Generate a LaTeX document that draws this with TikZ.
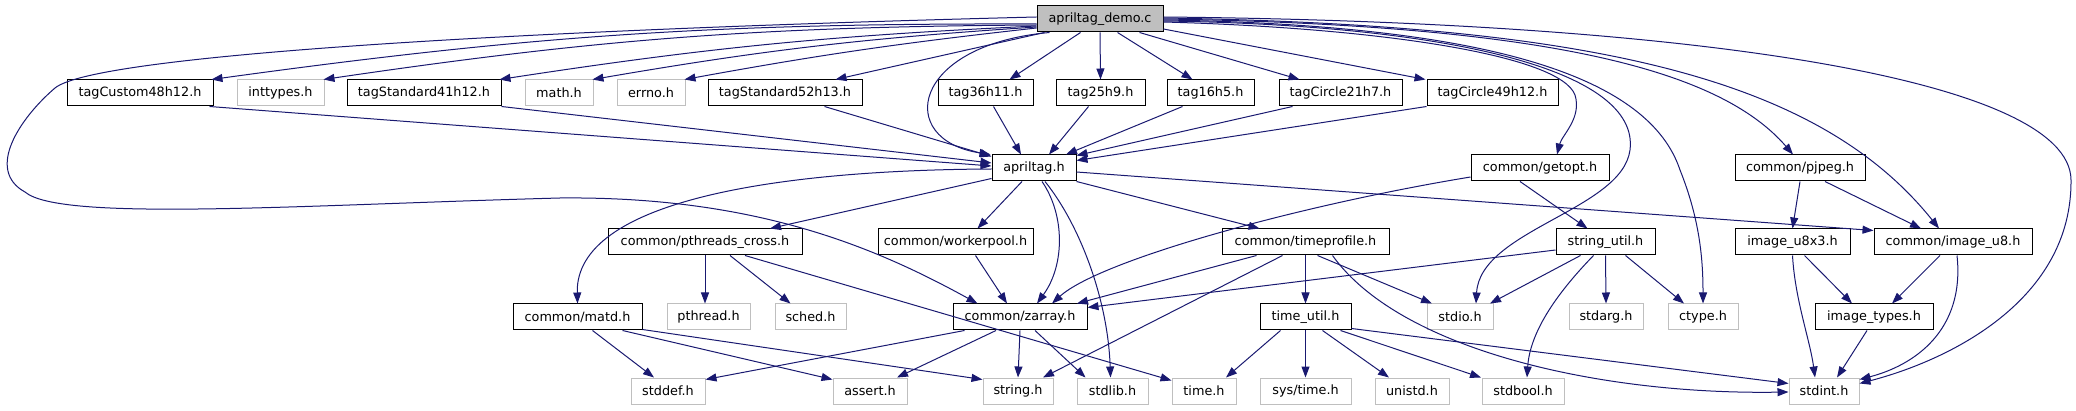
\documentclass[tikz,border=0pt]{standalone}
\usepackage{fontspec}
\setmainfont{DejaVu Sans}
\usetikzlibrary{arrows.meta}
\definecolor{edgeblue}{HTML}{191970}
\definecolor{sysgray}{HTML}{BFBFBF}
\tikzset{
  hdr/.style={draw=black, line width=1pt, fill=white, text=black,
    minimum height=26pt, inner sep=0pt, font=\fontsize{12.8}{15}\selectfont},
  syshdr/.style={hdr, draw=sysgray},
  mainfile/.style={hdr, fill=sysgray},
  edge/.style={draw=edgeblue, line width=1pt, -{Triangle[length=11pt,width=8pt]}}
}
\begin{document}
\begin{tikzpicture}[x=1pt,y=-1pt]
\useasboundingbox (0,0) rectangle (2076,411);
% source file
\node[mainfile, minimum width=126] (root) at (1100,19) {apriltag\_demo.c};
% first level
\node[hdr, minimum width=146] (tagcustom) at (140,93) {tagCustom48h12.h};
\node[syshdr, minimum width=87] (inttypes) at (280.5,93) {inttypes.h};
\node[hdr, minimum width=154] (tagstdA) at (424,93) {tagStandard41h12.h};
\node[syshdr, minimum width=68] (math) at (559,93) {math.h};
\node[syshdr, minimum width=68] (errno) at (651,93) {errno.h};
\node[hdr, minimum width=154] (tagstdB) at (785,93) {tagStandard52h13.h};
\node[hdr, minimum width=95] (tagA) at (985.5,93) {tag36h11.h};
\node[hdr, minimum width=89] (tagB) at (1100.5,93) {tag25h9.h};
\node[hdr, minimum width=87] (tagC) at (1210.5,93) {tag16h5.h};
\node[hdr, minimum width=123] (circA) at (1340.5,93) {tagCircle21h7.h};
\node[hdr, minimum width=131] (circB) at (1492.5,93) {tagCircle49h12.h};
% second level
\node[hdr, minimum width=84] (apriltag) at (1034,168) {apriltag.h};
\node[hdr, minimum width=138] (getopt) at (1540,168) {common/getopt.h};
\node[hdr, minimum width=130] (pjpeg) at (1800,168) {common/pjpeg.h};
% third level
\node[hdr, minimum width=194] (pthreads) at (705,242) {common/pthreads\_cross.h};
\node[hdr, minimum width=155] (workerpool) at (955.5,242) {common/workerpool.h};
\node[hdr, minimum width=167] (timeprofile) at (1305.5,242) {common/timeprofile.h};
\node[hdr, minimum width=99] (strutil) at (1605.5,242) {string\_util.h};
\node[hdr, minimum width=115] (imgxthree) at (1792.5,242) {image\_u8x3.h};
\node[hdr, minimum width=158] (imgu) at (1953,242) {common/image\_u8.h};
% fourth level
\node[hdr, minimum width=129] (matd) at (577.5,317) {common/matd.h};
\node[syshdr, minimum width=83] (pthread) at (708.5,317) {pthread.h};
\node[syshdr, minimum width=71] (sched) at (810.5,317) {sched.h};
\node[hdr, minimum width=134] (zarray) at (1020,317) {common/zarray.h};
\node[hdr, minimum width=91] (timeutil) at (1305.5,317) {time\_util.h};
\node[syshdr, minimum width=66] (stdio) at (1460,317) {stdio.h};
\node[syshdr, minimum width=74] (stdarg) at (1606,317) {stdarg.h};
\node[syshdr, minimum width=70] (ctype) at (1703,317) {ctype.h};
\node[hdr, minimum width=118] (imgtypes) at (1874,317) {image\_types.h};
% system headers
\node[syshdr, minimum width=74] (stddef) at (668,391) {stddef.h};
\node[syshdr, minimum width=74] (assert) at (870,391) {assert.h};
\node[syshdr, minimum width=70] (string) at (1018,391) {string.h};
\node[syshdr, minimum width=71] (stdlib) at (1112.5,391) {stdlib.h};
\node[syshdr, minimum width=64] (time) at (1204,391) {time.h};
\node[syshdr, minimum width=91] (systime) at (1305.5,391) {sys/time.h};
\node[syshdr, minimum width=74] (unistd) at (1412,391) {unistd.h};
\node[syshdr, minimum width=82] (stdbool) at (1523,391) {stdbool.h};
\node[syshdr, minimum width=70] (stdint) at (1824,391) {stdint.h};
% includes of apriltag_demo.c
\draw[edge] ([yshift=-5]root.west) to[bend right=4] ([xshift=-2]tagcustom.north east);
\draw[edge] ([yshift=-6]root.west) to[bend right=4] ([xshift=-1]inttypes.north east);
\draw[edge] ([yshift=-7]root.west) to[bend right=3] ([xshift=-2]tagstdA.north east);
\draw[edge] ([yshift=-8]root.west) to[bend right=3] ([xshift=-1]math.north east);
\draw[edge] ([yshift=-9]root.west) to[bend right=2] ([xshift=-1]errno.north east);
\draw[edge] ([xshift=8]root.south west) -- ([xshift=-27]tagstdB.north east);
\draw[edge] ([xshift=44]root.south west) -- ([xshift=24]tagA.north);
\draw[edge] (root.south) -- (tagB.north);
\draw[edge] ([xshift=-46]root.south east) -- ([xshift=-18]tagC.north);
\draw[edge] ([xshift=-24]root.south east) -- ([xshift=21]circA.north west);
\draw[edge] ([yshift=-10]root.east) -- ([xshift=-1]circB.north west);
\draw[edge] ([xshift=13]root.south west) .. controls (910,45) and (895,140) .. ([xshift=-1]apriltag.north west);
\draw[edge] ([yshift=2]root.west) .. controls (520,30) and (95,55) .. (55,88)
  .. controls (20,118) and (-15,170) .. (25,192)
  .. controls (60,222) and (300,205) .. (560,198)
  .. controls (760,196) and (880,250) .. ([xshift=25]zarray.north west);
\draw[edge] ([yshift=-3]root.east) .. controls (1380,28) and (1560,55) .. (1575,95)
  .. controls (1582,118) and (1562,135) .. ([xshift=17]getopt.north);
\draw[edge] ([yshift=-2]root.east) .. controls (1450,25) and (1640,70) .. (1630,150)
  .. controls (1622,210) and (1480,230) .. ([xshift=16]stdio.north);
\draw[edge] ([yshift=-1]root.east) .. controls (1500,25) and (1650,80) .. (1680,170)
  .. controls (1700,220) and (1703,260) .. (ctype.north);
\draw[edge] (root.east) .. controls (1550,25) and (1720,70) .. ([xshift=-7]pjpeg.north);
\draw[edge] ([yshift=1]root.east) .. controls (1600,25) and (1820,80) .. ([xshift=-14]imgu.north);
\draw[edge] ([yshift=2]root.east) .. controls (1700,22) and (2070,80) .. (2071,180)
  .. controls (2072,300) and (1950,360) .. ([yshift=-6]stdint.north east);
% tag families
\draw[edge] ([xshift=-4]tagcustom.south east) -- ([yshift=2]apriltag.west);
\draw[edge] (tagstdA.south east) -- ([yshift=5]apriltag.west);
\draw[edge] ([xshift=-38]tagstdB.south east) -- ([yshift=-2]apriltag.north west);
\draw[edge] ([xshift=8]tagA.south) -- ([xshift=-13]apriltag.north);
\draw[edge] ([xshift=-12]tagB.south) -- ([xshift=15]apriltag.north);
\draw[edge] ([xshift=-28]tagC.south) -- ([xshift=32]apriltag.north);
\draw[edge] ([xshift=14]circA.south west) -- ([yshift=-1]apriltag.north east);
\draw[edge] (circB.south west) -- ([yshift=-6]apriltag.north east);
% includes of apriltag.h
\draw[edge] ([yshift=-1]apriltag.west) .. controls (780,170) and (575,200) .. (matd.north);
\draw[edge] ([yshift=3]apriltag.south west) -- ([xshift=65]pthreads.north);
\draw[edge] ([xshift=-12]apriltag.south) -- ([xshift=22]workerpool.north);
\draw[edge] ([xshift=8]apriltag.south) .. controls (1065,215) and (1065,265) .. ([xshift=17]zarray.north);
\draw[edge] ([xshift=11]apriltag.south) .. controls (1080,225) and (1108,300) .. ([xshift=-2]stdlib.north);
\draw[edge] (apriltag.south east) -- ([xshift=38]timeprofile.north west);
\draw[edge] ([yshift=-4]apriltag.east) -- ([yshift=-2]imgu.north west);
% getopt, pjpeg
\draw[edge] ([yshift=-9]getopt.west) .. controls (1300,205) and (1100,260) .. ([xshift=32]zarray.north);
\draw[edge] ([xshift=-20]getopt.south) -- ([xshift=-18]strutil.north);
\draw[edge] (pjpeg.south) -- (imgxthree.north);
\draw[edge] ([xshift=25]pjpeg.south) -- ([xshift=-32]imgu.north);
% timeprofile
\draw[edge] ([xshift=35]timeprofile.south west) -- ([xshift=57]zarray.north);
\draw[edge] ([xshift=-23]timeprofile.south) -- ([xshift=25]string.north);
\draw[edge] (timeprofile.south) -- (timeutil.north);
\draw[edge] ([xshift=12]timeprofile.south) -- ([xshift=-28]stdio.north);
\draw[edge] ([xshift=27]timeprofile.south) .. controls (1400,350) and (1600,395) .. ([yshift=-1]stdint.west);
% string_util
\draw[edge] ([yshift=-8]strutil.west) -- ([yshift=-4]zarray.north east);
\draw[edge] ([xshift=-25]strutil.south) -- ([xshift=30]stdio.north);
\draw[edge] (strutil.south) -- (stdarg.north);
\draw[edge] ([xshift=20]strutil.south) -- ([xshift=-19]ctype.north);
\draw[edge] ([xshift=-12]strutil.south) .. controls (1560,290) and (1530,330) .. ([xshift=4]stdbool.north);
% time_util
\draw[edge] ([xshift=-25]timeutil.south) -- ([xshift=22]time.north);
\draw[edge] (timeutil.south) -- (systime.north);
\draw[edge] ([xshift=17]timeutil.south) -- ([xshift=-23]unistd.north);
\draw[edge] ([xshift=35]timeutil.south) -- ([xshift=-42]stdbool.north);
\draw[edge] ([yshift=2]timeutil.south east) -- ([yshift=-6]stdint.north west);
% images
\draw[edge] ([xshift=12]imgxthree.south) -- ([xshift=-22]imgtypes.north);
\draw[edge] (imgxthree.south) .. controls (1795,300) and (1810,340) .. ([xshift=-9]stdint.north);
\draw[edge] ([xshift=-13]imgu.south) -- ([xshift=18]imgtypes.north);
\draw[edge] ([xshift=4]imgu.south) .. controls (1965,330) and (1915,365) .. ([yshift=-2]stdint.north east);
\draw[edge] ([xshift=-7]imgtypes.south) -- ([xshift=13]stdint.north);
% pthreads_cross, workerpool
\draw[edge] (pthreads.south) -- ([xshift=-3.5]pthread.north);
\draw[edge] ([xshift=25]pthreads.south) -- ([xshift=-20]sched.north);
\draw[edge] ([xshift=40]pthreads.south) -- ([yshift=-3]time.north west);
\draw[edge] ([xshift=20]workerpool.south) -- ([xshift=-13]zarray.north);
% matd, zarray
\draw[edge] ([xshift=15]matd.south) -- ([xshift=-14]stddef.north);
\draw[edge] ([xshift=-20]matd.south east) -- ([yshift=-2]assert.north west);
\draw[edge] ([yshift=1]matd.south east) -- ([yshift=-2]string.north west);
\draw[edge] ([xshift=12]zarray.south west) -- ([yshift=-2]stddef.north east);
\draw[edge] ([xshift=-24]zarray.south) -- ([xshift=27]assert.north);
\draw[edge] (zarray.south) -- (string.north);
\draw[edge] ([xshift=15]zarray.south) -- ([xshift=-27]stdlib.north);
\end{tikzpicture}
\end{document}
